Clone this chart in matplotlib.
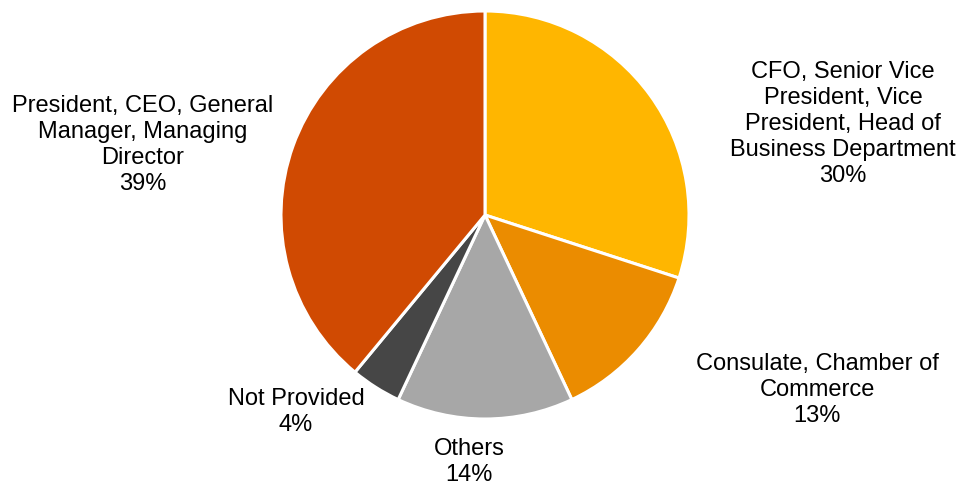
import matplotlib
matplotlib.use("Agg")
import matplotlib.pyplot as plt

# Share of respondents by job title
categories = [
    "CFO, Senior Vice\nPresident, Vice\nPresident, Head of\nBusiness Department",
    "Consulate, Chamber of\nCommerce",
    "Others",
    "Not Provided",
    "President, CEO, General\nManager, Managing\nDirector",
]
shares = [30, 13, 14, 4, 39]
colors = ["#FFB600", "#EB8C00", "#A7A7A7", "#464646", "#D04A02"]

# label anchor points (pixel space, origin top-left)
label_pos = [(843, 124), (817, 390), (469, 462), (296, 412), (143, 145)]

W, H = 960, 489
plt.rcParams["font.family"] = ["Liberation Sans", "DejaVu Sans"]

fig = plt.figure(figsize=(W / 100, H / 100), dpi=100)
ax = fig.add_axes([0, 0, 1, 1])

ax.pie(
    shares,
    colors=colors,
    startangle=90,
    counterclock=False,
    center=(485, H - 216),
    radius=204,
    wedgeprops=dict(edgecolor="white", linewidth=2.2),
    frame=True,
)
ax.set_xlim(0, W)
ax.set_ylim(0, H)
ax.set_aspect("equal")
ax.axis("off")

for cat, val, (x, y) in zip(categories, shares, label_pos):
    ax.text(x, H - y, f"{cat}\n{val}%", ha="center", va="center",
            fontsize=17, color="#000000", linespacing=1.24)

fig.savefig("out.png", dpi=100, facecolor="white")
